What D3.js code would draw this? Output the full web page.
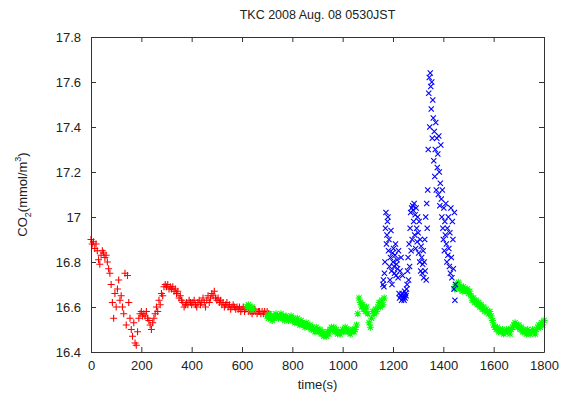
<!DOCTYPE html>
<html>
<head>
<meta charset="utf-8">
<script src="https://cdn.jsdelivr.net/npm/d3@7"></script>
<style>
  body { margin: 0; background: #fff; }
  text { font-family: "Liberation Sans", Arial, sans-serif; }
</style>
</head>
<body>
<div id="chart"></div>
<script>
// chart data (CO2 samples)
var xTicks = [0, 200, 400, 600, 800, 1000, 1200, 1400, 1600, 1800]
var yTicks = [16.4, 16.6, 16.8, 17, 17.2, 17.4, 17.6, 17.8]

// red: t = 0..705, every 5 s
var redStart = 0, redStep = 5
var redValues = [
  16.90, 16.88, 16.89, 16.86, 16.88, 16.85, 16.81, 16.79, 16.83, 16.85,
  16.84, 16.82, 16.83, 16.80, 16.77, 16.75, 16.70, 16.62, 16.55, 16.66,
  16.60, 16.68, 16.72, 16.63, 16.65, 16.60, 16.57, 16.75, 16.52, 16.74,
  16.62, 16.55, 16.50, 16.47, 16.53, 16.44, 16.43, 16.49, 16.55, 16.57,
  16.58, 16.56, 16.57, 16.56, 16.58, 16.55, 16.54, 16.52, 16.50, 16.53,
  16.55, 16.57, 16.60, 16.58, 16.63, 16.61, 16.66, 16.65, 16.69, 16.70,
  16.69, 16.70, 16.68, 16.69, 16.68, 16.69, 16.67, 16.68, 16.66, 16.67,
  16.64, 16.65, 16.63, 16.62, 16.60, 16.61, 16.62, 16.61, 16.63, 16.62,
  16.61, 16.62, 16.63, 16.61, 16.60, 16.62, 16.63, 16.61, 16.62, 16.64,
  16.62, 16.60, 16.63, 16.65, 16.62, 16.64, 16.66, 16.65, 16.67, 16.64,
  16.63, 16.64, 16.62, 16.63, 16.61, 16.62, 16.60, 16.61, 16.62, 16.60,
  16.61, 16.59, 16.60, 16.61, 16.60, 16.59, 16.60, 16.59, 16.60, 16.58,
  16.59, 16.60, 16.58, 16.59, 16.60, 16.58, 16.59, 16.58, 16.57, 16.58,
  16.59, 16.58, 16.57, 16.58, 16.58, 16.57, 16.58, 16.57, 16.58, 16.57,
  16.58, 16.57
]

// green, three pieces
var greenAStart = 620, greenAStep = 5
var greenAValues = [16.60, 16.61, 16.60, 16.59, 16.60, 16.59]
var greenBStart = 700, greenBStep = 5
var greenBValues = [
  16.56, 16.55, 16.57, 16.55, 16.54, 16.56, 16.55, 16.57, 16.56, 16.55,
  16.56, 16.57, 16.55, 16.56, 16.54, 16.56, 16.55, 16.54, 16.55, 16.56,
  16.54, 16.55, 16.53, 16.54, 16.55, 16.53, 16.52, 16.54, 16.53, 16.52,
  16.51, 16.53, 16.52, 16.51, 16.52, 16.50, 16.51, 16.50, 16.49, 16.51,
  16.50, 16.49, 16.50, 16.48, 16.49, 16.47, 16.48, 16.47, 16.49, 16.48,
  16.50, 16.51, 16.50, 16.51, 16.49, 16.50, 16.48, 16.49, 16.48, 16.49,
  16.50, 16.49, 16.51, 16.50, 16.49, 16.50, 16.48, 16.49, 16.50, 16.49,
  16.50, 16.52, 16.57, 16.64, 16.62, 16.60, 16.61, 16.59, 16.58, 16.60,
  16.57, 16.53, 16.51, 16.55, 16.58, 16.57, 16.59, 16.58, 16.60, 16.62,
  16.60, 16.63, 16.61, 16.64
]
var greenCStart = 1445, greenCStep = 5
var greenCValues = [
  16.68, 16.70, 16.69, 16.71, 16.68, 16.69, 16.67, 16.69, 16.68, 16.67,
  16.68, 16.66, 16.67, 16.65, 16.63, 16.64, 16.62, 16.63, 16.61, 16.62,
  16.60, 16.61, 16.59, 16.60, 16.58, 16.59, 16.58, 16.57, 16.58, 16.56,
  16.54, 16.52, 16.51, 16.50, 16.51, 16.49, 16.50, 16.49, 16.50, 16.48,
  16.49, 16.50, 16.49, 16.50, 16.48, 16.50, 16.51, 16.52, 16.53, 16.52,
  16.51, 16.52, 16.50, 16.51, 16.49, 16.50, 16.49, 16.48, 16.50, 16.49,
  16.48, 16.49, 16.50, 16.49, 16.48, 16.50, 16.51, 16.52, 16.51, 16.53,
  16.52, 16.54
]

// blue: t = 1160..1448, every 2 s
var blueStart = 1160, blueStep = 2
var blueValues = [
  16.70, 16.72, 16.69, 16.75, 16.80, 16.95, 17.02, 16.88, 16.92, 16.98,
  17.00, 16.85, 16.90, 16.78, 16.72, 16.82, 16.94, 16.76, 16.70, 16.84,
  16.80, 16.86, 16.78, 16.75, 16.83, 16.88, 16.74, 16.79, 16.81, 16.77,
  16.73, 16.85, 16.66, 16.64, 16.76, 16.65, 16.82, 16.63, 16.66, 16.74,
  16.64, 16.65, 16.63, 16.67, 16.64, 16.66, 16.65, 16.68, 16.70, 16.76,
  16.82, 16.72, 16.88, 16.78, 16.95, 17.02, 16.85, 17.04, 16.90, 17.05,
  17.03, 16.98, 17.06, 16.92, 17.01, 16.86, 17.04, 16.95, 16.89, 17.00,
  16.93, 16.84, 16.98, 16.80, 16.90, 16.76, 16.87, 16.82, 16.75, 16.79,
  16.85, 16.73, 16.80, 16.90, 16.76, 17.00, 16.72, 17.06, 16.95, 17.12,
  17.30, 17.55, 17.62, 17.40, 17.64, 17.58, 17.48, 17.60, 17.35, 17.52,
  17.44, 17.25, 17.38, 17.18, 17.30, 17.42, 17.12, 17.35, 17.22, 17.28,
  17.10, 17.36, 17.20, 17.05, 17.15, 17.32, 17.08, 17.00, 17.12, 16.95,
  16.90, 17.04, 16.85, 16.98, 16.92, 17.06, 16.88, 16.80, 16.95, 16.83,
  17.00, 16.86, 16.78, 16.93, 16.75, 17.04, 16.82, 16.73, 16.98, 16.90,
  16.77, 16.68, 17.02, 16.63, 16.70
]

var W = 569, H = 394
var margin = { top: 37, right: 25, bottom: 42, left: 91 }

var svg = d3.select("#chart").append("svg")
    .attr("width", W)
    .attr("height", H)

var x = d3.scaleLinear().domain([0, 1800]).range([margin.left, W - margin.right])
var y = d3.scaleLinear().domain([16.4, 17.8]).range([H - margin.bottom, margin.top])

function toPoints(start, step, values) {
    return values.map((v, i) => ({ t: start + i * step, v: v }))
}

// marker paths
var plus = function(d) {
    var px = x(d.t), py = y(d.v), s = 3.5
    return "M" + (px - s) + "," + py + "h" + (2 * s) + "M" + px + "," + (py - s) + "v" + (2 * s)
}
var cross = function(d) {
    var px = x(d.t), py = y(d.v), s = 2.6
    return "M" + (px - s) + "," + (py - s) + "l" + (2 * s) + "," + (2 * s) +
        "M" + (px - s) + "," + (py + s) + "l" + (2 * s) + "," + (-2 * s)
}
var star = function(d) { return plus(d) + cross(d) }

var plot = svg.append("g")
function drawSeries(points, shape, color) {
    plot.append("g").selectAll("path")
        .data(points)
        .enter().append("path")
        .attr("d", shape)
        .attr("stroke", color)
        .attr("stroke-width", 1.1)
        .attr("fill", "none")
}
drawSeries(toPoints(redStart, redStep, redValues), plus, "#ff0000")
drawSeries(toPoints(greenAStart, greenAStep, greenAValues), star, "#00ff00")
drawSeries(toPoints(greenBStart, greenBStep, greenBValues), star, "#00ff00")
drawSeries(toPoints(greenCStart, greenCStep, greenCValues), star, "#00ff00")
drawSeries(toPoints(blueStart, blueStep, blueValues), cross, "#0000ff")

// axes: gnuplot style ticks pointing inward, mirrored
var yFmt = d => String(+d.toFixed(1))
var xFmt = d3.format("d")
var tick = 5
var axisColor = "#333"

var bottom = svg.append("g")
    .attr("transform", "translate(0," + y.range()[0] + ")")
    .call(d3.axisBottom(x).tickValues(xTicks).tickSizeInner(-tick).tickSizeOuter(0).tickPadding(9).tickFormat(xFmt))
var top_ = svg.append("g")
    .attr("transform", "translate(0," + y.range()[1] + ")")
    .call(d3.axisTop(x).tickValues(xTicks).tickSizeInner(-tick).tickSizeOuter(0).tickFormat(""))
var left = svg.append("g")
    .attr("transform", "translate(" + x.range()[0] + ",0)")
    .call(d3.axisLeft(y).tickValues(yTicks).tickSizeInner(-tick).tickSizeOuter(0).tickPadding(10).tickFormat(yFmt))
var right = svg.append("g")
    .attr("transform", "translate(" + x.range()[1] + ",0)")
    .call(d3.axisRight(y).tickValues(yTicks).tickSizeInner(-tick).tickSizeOuter(0).tickFormat(""))

;[bottom, top_, left, right].forEach(a => {
    a.select(".domain").attr("stroke", axisColor)
    a.selectAll(".tick line").attr("stroke", axisColor)
    a.selectAll(".tick text")
        .attr("fill", "#222")
        .style("font-size", "13px")
        .style("font-family", "'Liberation Sans', Arial, sans-serif")
})

// title and axis labels
svg.append("text")
    .attr("x", (x.range()[0] + x.range()[1]) / 2)
    .attr("y", 19)
    .attr("text-anchor", "middle")
    .attr("fill", "#222")
    .style("font-size", "12.5px")
    .text("TKC 2008 Aug. 08 0530JST")

svg.append("text")
    .attr("x", (x.range()[0] + x.range()[1]) / 2)
    .attr("y", 389)
    .attr("text-anchor", "middle")
    .attr("fill", "#222")
    .style("font-size", "13px")
    .text("time(s)")

var ylab = svg.append("text")
    .attr("transform", "translate(27," + ((y.range()[0] + y.range()[1]) / 2) + ") rotate(-90)")
    .attr("text-anchor", "middle")
    .attr("fill", "#222")
    .style("font-size", "13px")
ylab.append("tspan").text("CO")
ylab.append("tspan").attr("dy", 4).style("font-size", "9px").text("2")
ylab.append("tspan").attr("dy", -4).text("(mmol/m")
ylab.append("tspan").attr("dy", -6).style("font-size", "9px").text("3")
ylab.append("tspan").attr("dy", 6).text(")")
</script>
</body>
</html>
